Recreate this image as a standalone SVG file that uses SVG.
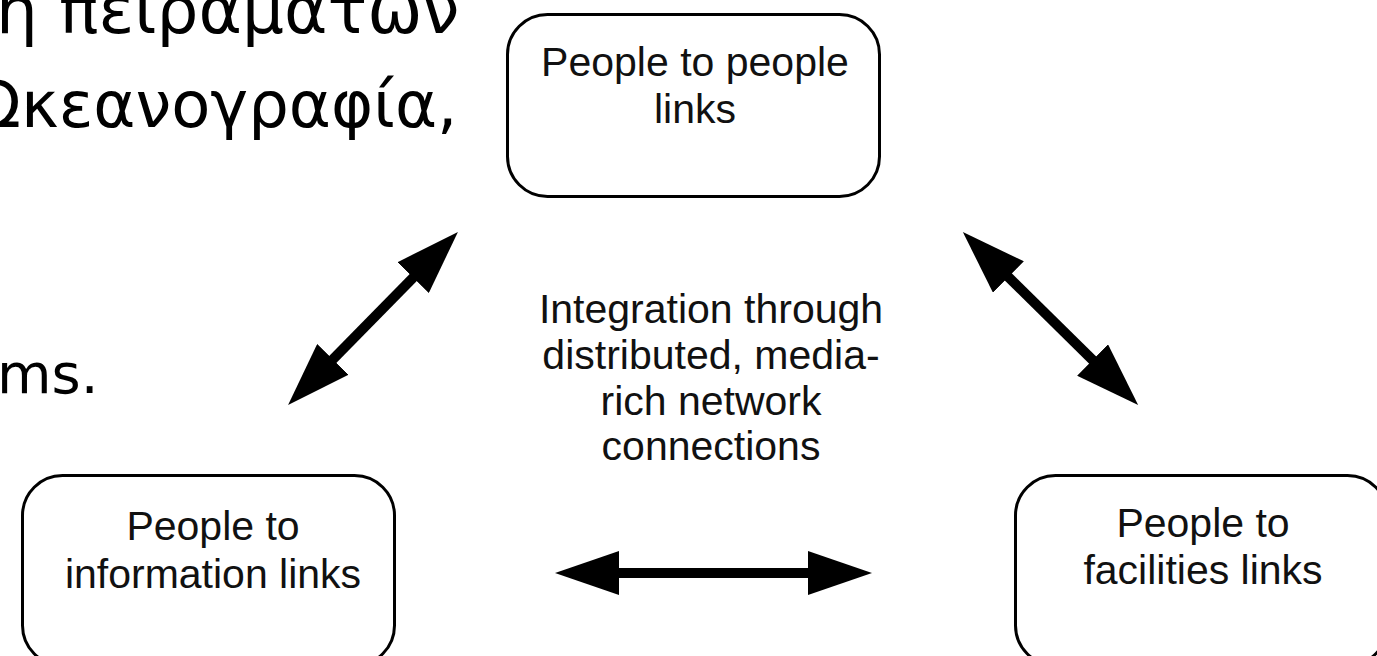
<svg xmlns="http://www.w3.org/2000/svg" width="1377" height="656" viewBox="0 0 1377 656">
<defs>
<style>
.box{fill:#fff;stroke:#000;stroke-width:3}
.lbl{font-family:"Liberation Sans",Arial,sans-serif;font-size:41px;fill:#111;text-anchor:middle}
.gr{font-family:"DejaVu Sans",Verdana,sans-serif;fill:#000}
.conn{stroke:#000;stroke-width:10;fill:none}
</style>
<marker id="head" viewBox="0 0 64 44" refX="2" refY="22" markerWidth="64" markerHeight="44" markerUnits="userSpaceOnUse" orient="auto-start-reverse">
<path d="M0,0 L64,22 L0,44 Z" fill="#000"/>
</marker>
</defs>
<rect width="1377" height="656" fill="#fff"/>
<g id="slide-text">
<text class="gr" x="-4" y="33" font-size="66">η πειραμάτων</text>
<text class="gr" x="-28" y="127" font-size="64">Ωκεανογραφία,</text>
<text class="gr" x="-3" y="393" font-size="56">ms.</text>
</g>
<g id="connectors">
<line class="conn" x1="331.5" y1="360.8" x2="414.5" y2="276.2" marker-start="url(#head)" marker-end="url(#head)"/>
<line class="conn" x1="1007" y1="275.6" x2="1094" y2="361.4" marker-start="url(#head)" marker-end="url(#head)"/>
<line class="conn" x1="617" y1="573" x2="810" y2="573" marker-start="url(#head)" marker-end="url(#head)"/>
</g>
<g id="node-people">
<rect class="box" x="507.5" y="14.5" width="372" height="182" rx="40"/>
<text class="lbl" x="695" y="76">People to people</text>
<text class="lbl" x="695" y="123">links</text>
</g>
<g id="node-information">
<rect class="box" x="22.5" y="475.5" width="372" height="190" rx="40"/>
<text class="lbl" x="213" y="540">People to</text>
<text class="lbl" x="213" y="588">information links</text>
</g>
<g id="node-facilities">
<rect class="box" x="1015.5" y="475.5" width="372" height="190" rx="40"/>
<text class="lbl" x="1203" y="537">People to</text>
<text class="lbl" x="1203" y="584">facilities links</text>
</g>
<g id="node-center">
<text class="lbl" x="711" y="323">Integration through</text>
<text class="lbl" x="711" y="369">distributed, media-</text>
<text class="lbl" x="711" y="415">rich network</text>
<text class="lbl" x="711" y="460">connections</text>
</g>
</svg>
